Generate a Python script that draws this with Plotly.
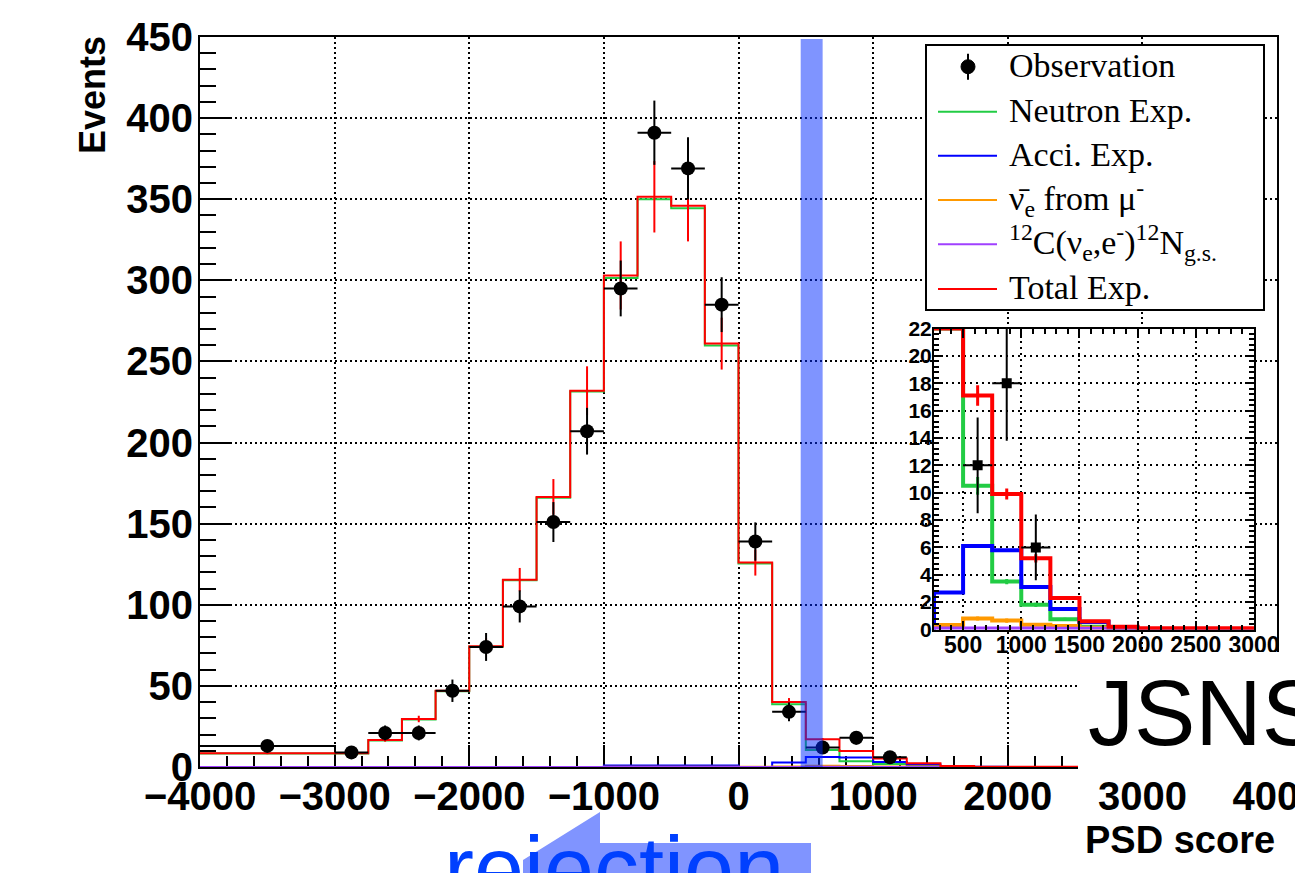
import numpy as np
import plotly.graph_objects as go

# ---------------- data ----------------
bin_edges = [-4000, -3000, -2750, -2500, -2250, -2000, -1750, -1500, -1250, -1000,
             -750, -500, -250, 0, 250, 500, 750, 1000, 1250, 1500, 1750, 2000, 4000]

total_exp = [8.5, 8.5, 16.7, 29.6, 47.0, 74.5, 115.5, 166.5, 232.0, 303.0, 351.5,
             346.0, 261.0, 126.0, 40.0, 17.1, 9.9, 5.2, 2.3, 0.6, 0.2, 0.1]
total_err = [0.6, 0.6, 1.1, 2.0, 3.0, 4.8, 7.2, 11.0, 15.0, 21.0, 22.0,
             22.0, 16.0, 8.0, 2.5, 0.75, 0.4, 0.3, 0.15, 0.05, 0.03, 0.0]
neutron_exp = [8.3, 8.3, 16.4, 29.3, 46.7, 74.1, 115.1, 166.0, 231.4, 301.5, 350.0,
               344.5, 259.8, 125.5, 38.7, 10.5, 3.5, 1.8, 0.75, 0.2, 0.05, 0.0]
neutron_err = [0.6, 0.6, 1.1, 2.0, 3.0, 4.8, 7.2, 11.0, 15.0, 21.0, 22.0,
               22.0, 16.0, 8.0, 2.3, 0.65, 0.2, 0.15, 0.1, 0.05, 0.02, 0.0]
acci_exp = [0.0, 0.0, 0.0, 0.0, 0.0, 0.0, 0.0, 0.0, 0.0, 1.0, 1.0,
            1.0, 1.0, 0.0, 2.7, 6.1, 5.8, 3.1, 1.5, 0.55, 0.1, 0.0]
nuebar_exp = [0.05, 0.05, 0.05, 0.05, 0.05, 0.05, 0.05, 0.05, 0.05, 0.2, 0.2,
              0.2, 0.2, 0.2, 0.32, 0.8, 0.65, 0.35, 0.25, 0.12, 0.05, 0.02]
nuebar_err = [0.0, 0.0, 0.0, 0.0, 0.0, 0.0, 0.0, 0.0, 0.0, 0.05, 0.05,
              0.05, 0.05, 0.05, 0.1, 0.15, 0.15, 0.1, 0.05, 0.03, 0.02, 0.0]
c12_exp = [0.05, 0.05, 0.05, 0.05, 0.05, 0.05, 0.05, 0.05, 0.05, 0.05, 0.05,
           0.05, 0.05, 0.05, 0.07, 0.08, 0.08, 0.07, 0.06, 0.05, 0.04, 0.03]

obs_x = [-3500, -2875, -2625, -2375, -2125, -1875, -1625, -1375, -1125, -875,
         -625, -375, -125, 125, 375, 625, 875, 1125]
obs_xerr = [500, 125, 125, 125, 125, 125, 125, 125, 125, 125,
            125, 125, 125, 125, 125, 125, 125, 125]
obs_y = [13, 9, 21, 21, 47, 74, 99, 151, 207, 295, 391, 369, 285, 139, 34, 12, 18, 6]
obs_yerr = [3.6, 3.0, 4.6, 4.6, 6.9, 8.6, 9.9, 12.3, 14.4, 17.2,
            19.8, 19.2, 16.9, 11.8, 5.8, 3.5, 4.2, 2.4]

cut_band = [462, 625]          # highlighted PSD window
inset_ymax = 22

# ---------------- geometry helpers (page pixel -> paper) ----------------
PAGE_W, PAGE_H = 1303, 873
BODY = 8                        # default page margin around the plot div
W, H = PAGE_W - BODY, PAGE_H - BODY
PL, PR, PT, PB = 200, 1277, 37, 767   # plot frame in page pixels


def px(x):
    return (x - PL) / (PR - PL)


def py(y):
    return (PB - y) / (PB - PT)


centers = [(a + b) / 2 for a, b in zip(bin_edges[:-1], bin_edges[1:])]


def step(vals):
    return list(vals) + [vals[-1]]


GREEN, BLUE, ORANGE, PURPLE, RED = "#22cc44", "#0000ff", "#ff9900", "#a040ff", "#ff0000"
series = [(neutron_exp, GREEN), (acci_exp, BLUE), (nuebar_exp, ORANGE),
          (c12_exp, PURPLE), (total_exp, RED)]

fig = go.Figure()

# ---- main panel ----
for vals, col in series:
    fig.add_trace(go.Scatter(x=bin_edges, y=step(vals), mode="lines", line_shape="hv",
                             line=dict(color=col, width=2), xaxis="x", yaxis="y",
                             showlegend=False, hoverinfo="skip"))
fig.add_trace(go.Scatter(x=centers, y=total_exp, mode="markers",
                         marker=dict(size=1, color=RED),
                         error_y=dict(type="data", array=total_err, color=RED, thickness=2, width=0),
                         xaxis="x", yaxis="y", showlegend=False, hoverinfo="skip"))
fig.add_trace(go.Scatter(x=obs_x, y=obs_y, mode="markers",
                         marker=dict(symbol="circle", size=14, color="black"),
                         error_x=dict(type="data", array=obs_xerr, color="black", thickness=2, width=0),
                         error_y=dict(type="data", array=obs_yerr, color="black", thickness=2, width=0),
                         xaxis="x", yaxis="y", showlegend=False, name="Observation"))

# ---- inset panel ----
inset_err = {GREEN: neutron_err, ORANGE: nuebar_err}
for vals, col in series:
    shown = np.minimum(np.array(vals, dtype=float), inset_ymax)
    fig.add_trace(go.Scatter(x=bin_edges, y=step(shown), mode="lines", line_shape="hv",
                             line=dict(color=col, width=4), xaxis="x2", yaxis="y2",
                             showlegend=False, hoverinfo="skip"))
    if col in inset_err:
        fig.add_trace(go.Scatter(x=centers, y=vals, mode="markers", marker=dict(size=1, color=col),
                                 error_y=dict(type="data", array=inset_err[col], color=col,
                                              thickness=3, width=0),
                                 xaxis="x2", yaxis="y2", showlegend=False, hoverinfo="skip"))
fig.add_trace(go.Scatter(x=centers, y=total_exp, mode="markers", marker=dict(size=1, color=RED),
                         error_y=dict(type="data", array=total_err, color=RED, thickness=3, width=0),
                         xaxis="x2", yaxis="y2", showlegend=False, hoverinfo="skip"))
fig.add_trace(go.Scatter(x=obs_x, y=obs_y, mode="markers",
                         marker=dict(symbol="square", size=10, color="black"),
                         error_x=dict(type="data", array=obs_xerr, color="black", thickness=2, width=0),
                         error_y=dict(type="data", array=obs_yerr, color="black", thickness=2, width=0),
                         xaxis="x2", yaxis="y2", showlegend=False))

bold = dict(family="Liberation Sans", color="black", weight="bold")
grid_main = dict(showgrid=True, gridcolor="black", gridwidth=1.5, griddash="2px,3px",
                 zeroline=False, showline=True, linecolor="black", linewidth=2, mirror=True,
                 ticks="inside", tickwidth=2, tickcolor="black", exponentformat="none",
                 layer="below traces", ticklabeloverflow="allow", automargin=False)

fig.update_layout(
    width=W, height=H,
    margin=dict(l=PL - BODY, r=PAGE_W - PR, t=PT - BODY, b=PAGE_H - PB, pad=0,
                autoexpand=False),
    paper_bgcolor="white", plot_bgcolor="white",
    showlegend=False,
    xaxis=dict(domain=[0, 1], anchor="y", range=[-4000, 4000], tickmode="linear",
               tick0=-4000, dtick=1000, ticklen=22, ticklabelstandoff=-7,
               minor=dict(dtick=200, ticks="inside", ticklen=11, tickwidth=2,
                          tickcolor="black", showgrid=False),
               tickfont=dict(size=40, **bold), **grid_main),
    yaxis=dict(domain=[0, 1], anchor="x", range=[0, 450], tickmode="linear",
               tick0=0, dtick=50, ticklen=32, ticklabelstandoff=-3,
               minor=dict(dtick=10, ticks="inside", ticklen=16, tickwidth=2,
                          tickcolor="black", showgrid=False),
               tickfont=dict(size=40, **bold), **grid_main),
    xaxis2=dict(domain=[px(934), px(1254)], anchor="y2", range=[250, 3000],
                tickmode="linear", tick0=0, dtick=500, ticks="inside", ticklen=9,
                tickwidth=2, tickcolor="black", ticklabelstandoff=-6,
                minor=dict(dtick=100, ticks="inside", ticklen=5, tickwidth=1.5,
                           tickcolor="black", showgrid=False),
                showgrid=True, gridcolor="black", gridwidth=2, griddash="2px,4px",
                zeroline=False, showline=True, linecolor="black", linewidth=2,
                mirror="allticks", exponentformat="none", ticklabeloverflow="allow",
                automargin=False, tickfont=dict(size=23, **bold)),
    yaxis2=dict(domain=[py(629.5), py(328.5)], anchor="x2", range=[0, inset_ymax],
                tickmode="linear", tick0=0, dtick=2, ticks="inside", ticklen=9,
                tickwidth=2, tickcolor="black", ticklabelstandoff=-4,
                minor=dict(dtick=0.4, ticks="inside", ticklen=5, tickwidth=1.5,
                           tickcolor="black", showgrid=False),
                showgrid=True, gridcolor="black", gridwidth=2, griddash="2px,4px",
                zeroline=False, showline=True, linecolor="black", linewidth=2,
                mirror="allticks", ticklabeloverflow="allow", automargin=False,
                tickfont=dict(size=21, **bold)),
)

shapes = []
# highlighted PSD band
shapes.append(dict(type="rect", xref="x", yref="paper", x0=cut_band[0], x1=cut_band[1],
                   y0=0, y1=py(39), fillcolor="rgba(0,41,255,0.5)", line=dict(width=0),
                   layer="above"))
# white cover box behind the experiment label
shapes.append(dict(type="rect", xref="paper", yref="paper", x0=px(1078), x1=px(1303),
                   y0=py(775), y1=py(652), fillcolor="white", line=dict(width=0), layer="above"))
# legend box
shapes.append(dict(type="rect", xref="paper", yref="paper", x0=px(926), x1=px(1264),
                   y0=py(310), y1=py(45), fillcolor="white",
                   line=dict(color="black", width=2), layer="above"))
# "rejection" callout arrow
pts = [(600, 812), (600, 843), (811, 843), (811, 873), (523, 873), (523, 860)]
path = "M " + " L ".join(f"{px(a):.5f},{py(b):.5f}" for a, b in pts) + " Z"
shapes.append(dict(type="path", xref="paper", yref="paper", path=path,
                   fillcolor="#8094ff", line=dict(width=0), layer="above"))

legend_rows = [
    (66.7, None, "Observation"),
    (111.7, GREEN, "Neutron Exp."),
    (155.7, BLUE, "Acci. Exp."),
    (200.0, ORANGE, "ν̄<sub>e</sub> from μ<sup>-</sup>"),
    (244.3, PURPLE, "<sup>12</sup>C(ν<sub>e</sub>,e<sup>-</sup>)<sup>12</sup>N<sub>g.s.</sub>"),
    (289.0, RED, "Total Exp."),
]
annotations = []
for yc, col, txt in legend_rows:
    if col is None:
        shapes.append(dict(type="line", xref="paper", yref="paper", x0=px(968), x1=px(968),
                           y0=py(yc + 13), y1=py(yc - 13), line=dict(color="black", width=2),
                           layer="above"))
        shapes.append(dict(type="circle", xref="paper", yref="paper", xsizemode="pixel",
                           ysizemode="pixel", xanchor=px(968), yanchor=py(yc),
                           x0=-7, x1=7, y0=-7, y1=7, fillcolor="black",
                           line=dict(color="black", width=1), layer="above"))
    else:
        shapes.append(dict(type="line", xref="paper", yref="paper", x0=px(938), x1=px(997),
                           y0=py(yc), y1=py(yc), line=dict(color=col, width=2), layer="above"))
    annotations.append(dict(text=txt, xref="paper", yref="paper", x=px(1007), y=py(yc - 1.5),
                            xanchor="left", yanchor="middle", showarrow=False,
                            font=dict(family="Liberation Serif", size=34, color="black")))

annotations.append(dict(text="Events", xref="paper", yref="paper", x=px(92), y=py(95),
                        xanchor="center", yanchor="middle", textangle=-90, showarrow=False,
                        font=dict(size=36, **bold)))
annotations.append(dict(text="PSD score", xref="paper", yref="paper", x=px(1277), y=py(840),
                        xanchor="right", yanchor="middle", showarrow=False,
                        font=dict(size=38, **bold)))
annotations.append(dict(text="JSNS<sup>2</sup>", xref="paper", yref="paper", x=px(1086),
                        y=py(706), xanchor="left", yanchor="middle", showarrow=False,
                        font=dict(family="Liberation Sans", size=92, color="black")))
annotations.append(dict(text="rejection", xref="paper", yref="paper", x=px(442),
                        y=py(869), xanchor="left", yanchor="middle", showarrow=False,
                        font=dict(family="Liberation Sans", size=90, color="#0040ff")))

fig.update_layout(shapes=shapes, annotations=annotations)
fig.write_html("out.html")
